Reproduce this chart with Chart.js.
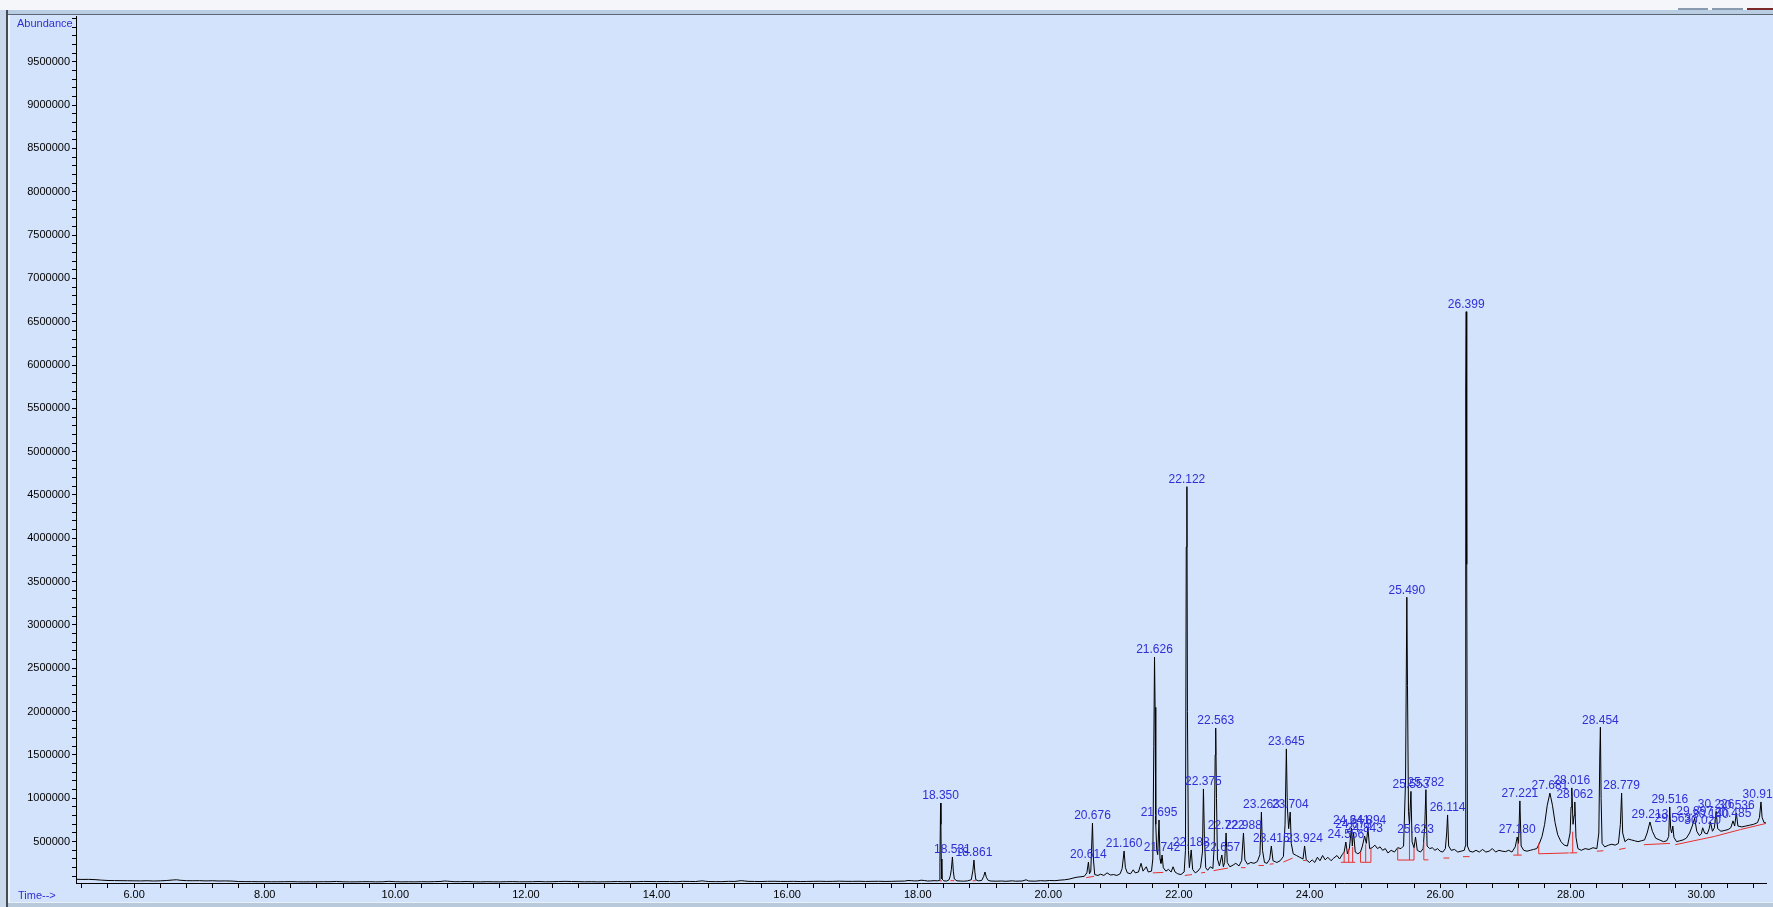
<!DOCTYPE html>
<html>
<head>
<meta charset="utf-8">
<script src="https://cdn.jsdelivr.net/npm/chart.js@4.4.1/dist/chart.umd.min.js"></script>
<style>
html,body{margin:0;padding:0;background:#d3e3fb;overflow:hidden;}
canvas{display:block;}
</style>
</head>
<body>
<canvas id="c" width="1773" height="907"></canvas>
<script>
// ---- Total ion chromatogram: [retention time (min), abundance] ----
const tic = [
[5.11,66000],[5.2,64000],[5.3,65000],[5.4,62000],[5.5,56000],[5.6,52000],[5.7,51000],[5.8,50000],[5.9,49000],[6.0,48000],[6.1,47000],[6.2,49000],[6.3,46000],[6.4,48000],[6.5,52000],[6.6,58000],[6.65,60000],[6.7,55000],[6.8,50000],[6.9,49000],[7.0,50000],[7.1,47000],[7.2,49000],[7.3,46000],[7.4,47000],[7.5,45000],[7.6,40000],[7.7,39000],[7.8,39000],[7.9,38000],[8.0,38000],[8.1,37000],[8.2,37000],[8.3,38000],[8.4,39000],[8.5,37000],[8.6,36000],[8.7,37000],[8.8,37000],[8.9,38000],[9.0,38000],[9.1,41000],[9.2,37000],[9.3,36000],[9.4,36000],[9.5,38000],[9.6,38000],[9.7,36000],[9.8,37000],[9.9,42000],[10.0,38000],[10.1,36000],[10.2,37000],[10.3,36000],[10.4,38000],[10.5,37000],[10.6,39000],[10.7,41000],[10.75,46000],[10.8,44000],[10.85,41000],[10.9,38000],[11.0,38000],[11.1,40000],[11.2,37000],[11.3,36000],[11.4,38000],[11.5,37000],[11.6,36000],[11.7,38000],[11.8,39000],[11.9,37000],[12.0,37000],[12.1,38000],[12.2,40000],[12.3,37000],[12.4,38000],[12.5,40000],[12.6,42000],[12.7,40000],[12.8,39000],[12.9,37000],[13.0,38000],[13.1,36000],[13.2,37000],[13.3,38000],[13.4,40000],[13.5,38000],[13.6,39000],[13.7,38000],[13.8,41000],[13.9,40000],[14.0,39000],[14.1,40000],[14.2,40000],[14.3,38000],[14.4,42000],[14.5,41000],[14.6,40000],[14.7,48000],[14.75,43000],[14.8,40000],[14.9,39000],[15.0,39000],[15.1,42000],[15.2,41000],[15.3,50000],[15.35,46000],[15.4,42000],[15.5,41000],[15.6,40000],[15.7,42000],[15.8,43000],[15.9,41000],[16.0,41000],[16.1,42000],[16.2,40000],[16.3,41000],[16.4,42000],[16.5,43000],[16.6,41000],[16.7,42000],[16.8,44000],[16.9,42000],[17.0,42000],[17.1,43000],[17.2,41000],[17.3,42000],[17.4,43000],[17.5,41000],[17.6,42000],[17.7,44000],[17.8,45000],[17.85,52000],[17.9,50000],[17.95,47000],[18.0,48000],[18.05,55000],[18.1,52000],[18.15,46000],[18.2,47000],[18.25,50000],[18.3,48000],
[18.33,52000],[18.34,260000],[18.35,946000],[18.355,700000],[18.36,300000],[18.37,70000],[18.40,48000],[18.44,45000],[18.48,60000],[18.50,110000],[18.515,180000],[18.531,323000],[18.545,160000],[18.56,70000],[18.60,48000],[18.65,46000],[18.70,44000],[18.76,47000],[18.82,60000],[18.845,170000],[18.861,288000],[18.875,150000],[18.89,60000],[18.93,48000],[18.98,52000],[19.01,100000],[19.03,150000],[19.05,90000],[19.08,52000],[19.12,46000],[19.20,44000],[19.28,46000],[19.35,43000],[19.45,48000],[19.50,44000],[19.60,46000],[19.66,60000],[19.70,46000],[19.80,44000],[19.88,50000],[19.95,47000],[20.02,52000],[20.10,50000],[20.18,56000],[20.25,60000],[20.32,68000],[20.38,80000],[20.44,90000],[20.50,95000],[20.55,100000],[20.59,140000],[20.614,265000],[20.63,130000],[20.65,160000],[20.676,715000],[20.69,300000],[20.71,120000],[20.76,110000],[20.80,125000],[20.85,110000],[20.90,140000],[20.95,115000],[21.00,120000],[21.05,110000],[21.10,130000],[21.13,190000],[21.16,392000],[21.18,200000],[21.21,140000],[21.26,130000],[21.30,175000],[21.33,140000],[21.38,150000],[21.42,250000],[21.45,160000],[21.50,210000],[21.53,150000],[21.58,160000],[21.60,300000],[21.615,1600000],[21.626,2630000],[21.635,2050000],[21.645,700000],[21.66,400000],[21.675,350000],[21.695,750000],[21.71,300000],[21.725,250000],[21.742,346000],[21.76,200000],[21.80,160000],[21.84,180000],[21.88,150000],[21.91,210000],[21.94,150000],[21.98,130000],[22.03,120000],[22.08,150000],[22.10,400000],[22.112,3900000],[22.122,4596000],[22.13,2000000],[22.145,400000],[22.16,200000],[22.188,404000],[22.21,180000],[22.25,140000],[22.29,160000],[22.33,200000],[22.36,380000],[22.375,1108000],[22.39,550000],[22.41,200000],[22.44,170000],[22.48,210000],[22.52,190000],[22.54,450000],[22.555,1500000],[22.563,1810000],[22.575,1000000],[22.59,300000],[22.62,220000],[22.657,346000],[22.68,210000],[22.70,260000],[22.722,600000],[22.74,260000],[22.78,210000],[22.83,230000],[22.87,250000],[22.92,220000],[22.96,280000],[22.988,600000],[23.01,290000],[23.05,240000],[23.10,260000],[23.15,250000],[23.20,270000],[23.24,350000],[23.263,842000],[23.28,400000],[23.31,260000],[23.35,250000],[23.39,300000],[23.415,450000],[23.44,280000],[23.50,260000],[23.55,280000],[23.60,330000],[23.625,700000],[23.645,1570000],[23.66,900000],[23.68,650000],[23.704,842000],[23.72,480000],[23.75,360000],[23.80,340000],[23.85,320000],[23.90,300000],[23.924,450000],[23.95,290000],[24.00,260000],[24.04,290000],[24.08,260000],[24.12,320000],[24.16,280000],[24.20,340000],[24.24,290000],[24.28,320000],[24.33,280000],[24.37,310000],[24.42,340000],[24.46,300000],[24.50,350000],[24.53,380000],[24.556,496000],[24.58,360000],[24.61,420000],[24.641,658000],[24.655,450000],[24.673,611000],[24.70,380000],[24.74,360000],[24.78,380000],[24.81,450000],[24.843,565000],[24.87,480000],[24.894,658000],[24.92,420000],[24.96,430000],[25.00,460000],[25.04,420000],[25.08,440000],[25.12,400000],[25.16,420000],[25.20,370000],[25.25,400000],[25.30,380000],[25.35,430000],[25.40,420000],[25.44,450000],[25.47,1200000],[25.49,3320000],[25.50,2300000],[25.515,850000],[25.53,700000],[25.553,1080000],[25.57,500000],[25.60,430000],[25.623,553000],[25.65,400000],[25.70,380000],[25.74,420000],[25.765,700000],[25.782,1100000],[25.80,450000],[25.84,420000],[25.88,430000],[25.92,400000],[25.96,420000],[26.00,390000],[26.04,380000],[26.08,420000],[26.10,600000],[26.114,808000],[26.13,450000],[26.17,400000],[26.22,410000],[26.27,380000],[26.32,390000],[26.37,400000],[26.385,450000],[26.392,5700000],[26.399,6615000],[26.407,3700000],[26.418,450000],[26.45,390000],[26.50,380000],[26.55,400000],[26.60,380000],[26.65,410000],[26.70,380000],[26.75,390000],[26.80,420000],[26.85,380000],[26.90,400000],[26.95,390000],[27.00,385000],[27.05,400000],[27.10,380000],[27.15,440000],[27.18,554000],[27.20,480000],[27.221,970000],[27.24,450000],[27.28,400000],[27.33,390000],[27.38,400000],[27.43,410000],[27.48,420000],[27.52,480000],[27.56,560000],[27.60,700000],[27.64,920000],[27.681,1060000],[27.72,920000],[27.76,720000],[27.80,580000],[27.85,500000],[27.90,460000],[27.95,450000],[27.99,600000],[28.005,900000],[28.016,1120000],[28.035,700000],[28.05,800000],[28.062,958000],[28.08,550000],[28.11,420000],[28.16,400000],[28.22,420000],[28.28,410000],[28.34,430000],[28.40,420000],[28.43,600000],[28.445,1500000],[28.454,1820000],[28.465,1000000],[28.48,480000],[28.52,440000],[28.58,460000],[28.63,470000],[28.68,460000],[28.73,480000],[28.76,700000],[28.779,1060000],[28.795,600000],[28.83,500000],[28.88,530000],[28.93,520000],[28.98,510000],[29.03,500000],[29.08,510000],[29.13,520000],[29.17,600000],[29.213,727000],[29.25,620000],[29.30,540000],[29.36,520000],[29.42,500000],[29.47,510000],[29.50,560000],[29.516,900000],[29.53,650000],[29.545,600000],[29.563,680000],[29.58,550000],[29.62,500000],[29.67,510000],[29.72,520000],[29.77,540000],[29.82,600000],[29.86,680000],[29.897,770000],[29.93,620000],[29.97,570000],[30.00,590000],[30.02,660000],[30.05,600000],[30.09,590000],[30.12,650000],[30.14,727000],[30.17,620000],[30.20,660000],[30.226,850000],[30.25,650000],[30.30,620000],[30.36,630000],[30.41,640000],[30.45,660000],[30.485,740000],[30.51,680000],[30.536,830000],[30.56,680000],[30.62,670000],[30.68,680000],[30.74,690000],[30.80,700000],[30.86,720000],[30.89,780000],[30.913,958000],[30.93,780000],[30.96,720000],[31.00,715000]
];

// ---- Integration baselines (red), null separates segments ----
const integBase = [
[18.335,48000],[18.37,48000],null,
[18.50,50000],[18.56,50000],null,
[18.84,48000],[18.89,50000],null,
[20.58,85000],[20.70,100000],null,
[21.60,140000],[21.76,145000],null,
[22.09,110000],[22.20,120000],null,
[22.34,140000],[22.40,145000],null,
[22.53,165000],[22.60,175000],[22.75,195000],null,
[22.95,200000],[23.02,200000],null,
[23.22,225000],[23.30,225000],null,
[23.39,240000],[23.45,245000],null,
[23.60,265000],[23.74,310000],null,
[23.90,285000],[23.95,280000],null,
[24.48,262000],[24.70,262000],null,
[24.53,262000],[24.53,380000],null,
[24.60,262000],[24.60,420000],null,
[24.66,262000],[24.66,440000],null,
[24.78,262000],[24.94,262000],null,
[24.78,262000],[24.78,380000],null,
[24.86,262000],[24.86,470000],null,
[24.94,262000],[24.94,420000],null,
[25.35,288000],[25.60,288000],null,
[25.35,288000],[25.35,430000],null,
[25.53,288000],[25.53,700000],null,
[25.60,288000],[25.60,430000],null,
[25.75,290000],[25.82,290000],null,
[25.75,290000],[25.75,500000],null,
[26.05,311000],[26.14,311000],null,
[26.35,327000],[26.45,327000],null,
[27.12,345000],[27.25,345000],null,
[27.19,345000],[27.19,500000],null,
[27.51,360000],[27.97,370000],null,
[27.51,360000],[27.51,485000],null,
[27.98,370000],[28.10,372000],null,
[28.03,372000],[28.03,615000],null,
[28.40,390000],[28.50,395000],null,
[28.74,410000],[28.84,425000],null,
[29.12,465000],[29.52,480000],null,
[29.60,465000],[30.20,560000],[30.60,640000],[31.00,712000]
];

// ---- Peak labels (retention time as printed) and apex abundance ----
const peakLabels = ['18.350','18.531','18.861','20.614','20.676','21.160','21.626','21.695','21.742','22.122','22.188','22.375','22.563','22.657','22.722','22.988','23.263','23.415','23.645','23.704','23.924','24.556','24.641','24.673','24.843','24.894','25.490','25.553','25.623','25.782','26.114','26.399','27.180','27.221','27.681','28.016','28.062','28.454','28.779','29.213','29.516','29.563','29.897','30.020','30.140','30.226','30.485','30.536','30.913'];
const peakTimes = [18.350,18.531,18.861,20.614,20.676,21.160,21.626,21.695,21.742,22.122,22.188,22.375,22.563,22.657,22.722,22.988,23.263,23.415,23.645,23.704,23.924,24.556,24.641,24.673,24.843,24.894,25.490,25.553,25.623,25.782,26.114,26.399,27.180,27.221,27.681,28.016,28.062,28.454,28.779,29.213,29.516,29.563,29.897,30.020,30.140,30.226,30.485,30.536,30.913];
const peakApex = [946000,323000,288000,265000,715000,392000,2630000,750000,346000,4596000,404000,1108000,1810000,346000,600000,600000,842000,450000,1570000,842000,450000,496000,658000,611000,565000,658000,3320000,1080000,553000,1100000,808000,6615000,554000,970000,1060000,1120000,958000,1820000,1060000,727000,900000,680000,770000,660000,727000,850000,740000,830000,958000];

// ---- Axis tick labels ----
const xTickLabels = ['6.00','8.00','10.00','12.00','14.00','16.00','18.00','20.00','22.00','24.00','26.00','28.00','30.00'];
const yTickLabels = ['500000','1000000','1500000','2000000','2500000','3000000','3500000','4000000','4500000','5000000','5500000','6000000','6500000','7000000','7500000','8000000','8500000','9000000','9500000'];
const xMinorStep = 0.4, xMinorStart = 5.2, xMinorEnd = 30.8;
const yMinorStep = 100000, yMinorEnd = 10000000;
const xRange = [5.11, 30.99];
const yRange = [23000, 10027000];

const BG = '#d3e3fb';
const BLUE = '#2f2fd6';
const FONT = '"Liberation Sans", Arial, sans-serif';

const xMinor = [];
for (let k = 0; xMinorStart + k * xMinorStep <= xMinorEnd + 1e-9; k++) xMinor.push(+(xMinorStart + k * xMinorStep).toFixed(2));
const yMinor = [];
for (let v = yMinorStep; v <= yMinorEnd; v += yMinorStep) yMinor.push(v);

const framePlugin = {
  id: 'frame',
  beforeDraw(chart) {
    const ctx = chart.ctx, W = chart.width, H = chart.height;
    ctx.save();
    ctx.fillStyle = BG; ctx.fillRect(0, 0, W, H);
    ctx.fillStyle = '#f4f6f9'; ctx.fillRect(0, 0, W, 10);
    ctx.fillStyle = '#b9cde3'; ctx.fillRect(0, 10, W, 4);
    ctx.fillStyle = '#5d6874'; ctx.fillRect(0, 14, W, 1);
    ctx.fillStyle = '#8a9bb0'; ctx.fillRect(1678, 8, 30, 2); ctx.fillRect(1712, 8, 31, 2);
    ctx.fillStyle = '#7a2828'; ctx.fillRect(1747, 8, 26, 2);
    ctx.fillStyle = '#c9d8ea'; ctx.fillRect(0, 10, 6, H - 10);
    ctx.fillStyle = '#434b55'; ctx.fillRect(6, 10, 2, H - 10);
    ctx.fillStyle = '#eef3fa'; ctx.fillRect(8, 15, 2, H - 15);
    ctx.fillStyle = '#e9eff6'; ctx.fillRect(8, 902, W - 8, 1);
    ctx.fillStyle = '#b8c9dc'; ctx.fillRect(8, 903, W - 8, H - 903);
    ctx.restore();
  },
  afterDraw(chart) {
    const ctx = chart.ctx;
    ctx.save();
    ctx.fillStyle = BLUE;
    ctx.font = '11px ' + FONT;
    ctx.textBaseline = 'middle';
    ctx.textAlign = 'left';
    ctx.fillText('Abundance', 17, 24);
    ctx.fillText('Time-->', 18, 896);
    ctx.restore();
  }
};

const peakLabelPlugin = {
  id: 'peakLabels',
  afterDatasetsDraw(chart) {
    const ctx = chart.ctx, xs = chart.scales.x, ys = chart.scales.y;
    ctx.save();
    ctx.fillStyle = BLUE;
    ctx.font = '12px ' + FONT;
    ctx.textAlign = 'center';
    ctx.textBaseline = 'bottom';
    peakLabels.forEach((lab, i) => {
      const px = xs.getPixelForValue(peakTimes[i]);
      const py = ys.getPixelForValue(peakApex[i]);
      ctx.fillText(lab, px, py - 1);
    });
    ctx.restore();
  }
};

new Chart(document.getElementById('c'), {
  type: 'line',
  data: {
    datasets: [
      {
        label: 'integration',
        data: integBase.map(p => p ? {x: p[0], y: p[1]} : {x: NaN, y: null}),
        borderColor: '#e8302c',
        borderWidth: 1,
        pointRadius: 0,
        spanGaps: false,
        tension: 0,
        order: 0
      },
      {
        label: 'TIC',
        data: tic.map(p => ({x: p[0], y: p[1]})),
        borderColor: '#000000',
        borderWidth: 1,
        pointRadius: 0,
        tension: 0,
        order: 1
      }
    ]
  },
  options: {
    responsive: false,
    animation: false,
    devicePixelRatio: 1,
    layout: { padding: { top: 16, right: 7, left: 0, bottom: 0 } },
    plugins: { legend: { display: false }, tooltip: { enabled: false } },
    scales: {
      x: {
        type: 'linear',
        min: xRange[0], max: xRange[1],
        afterFit(s) { s.height = 24; },
        afterBuildTicks(s) { s.ticks = xMinor.map(v => ({ value: v })); },
        grid: { display: true, drawOnChartArea: false, drawTicks: true, tickLength: 5, color: '#000' },
        border: { display: true, color: '#000', width: 1 },
        ticks: {
          autoSkip: false, maxRotation: 0, padding: 0, color: '#000',
          font: { family: FONT, size: 11 },
          callback(v) {
            const lab = xTickLabels.find(l => Math.abs(parseFloat(l) - v) < 1e-6);
            return lab || '';
          }
        }
      },
      y: {
        type: 'linear',
        min: yRange[0], max: yRange[1],
        afterFit(s) { s.width = 76; },
        afterBuildTicks(s) { s.ticks = yMinor.map(v => ({ value: v })); },
        grid: { display: true, drawOnChartArea: false, drawTicks: true, tickLength: 4, color: '#000' },
        border: { display: true, color: '#000', width: 1 },
        ticks: {
          autoSkip: false, padding: 2, color: '#000',
          font: { family: FONT, size: 11 },
          callback(v) {
            const lab = yTickLabels.find(l => Math.abs(parseFloat(l) - v) < 1);
            return lab || '';
          }
        }
      }
    }
  },
  plugins: [framePlugin, peakLabelPlugin]
});
</script>
</body>
</html>
